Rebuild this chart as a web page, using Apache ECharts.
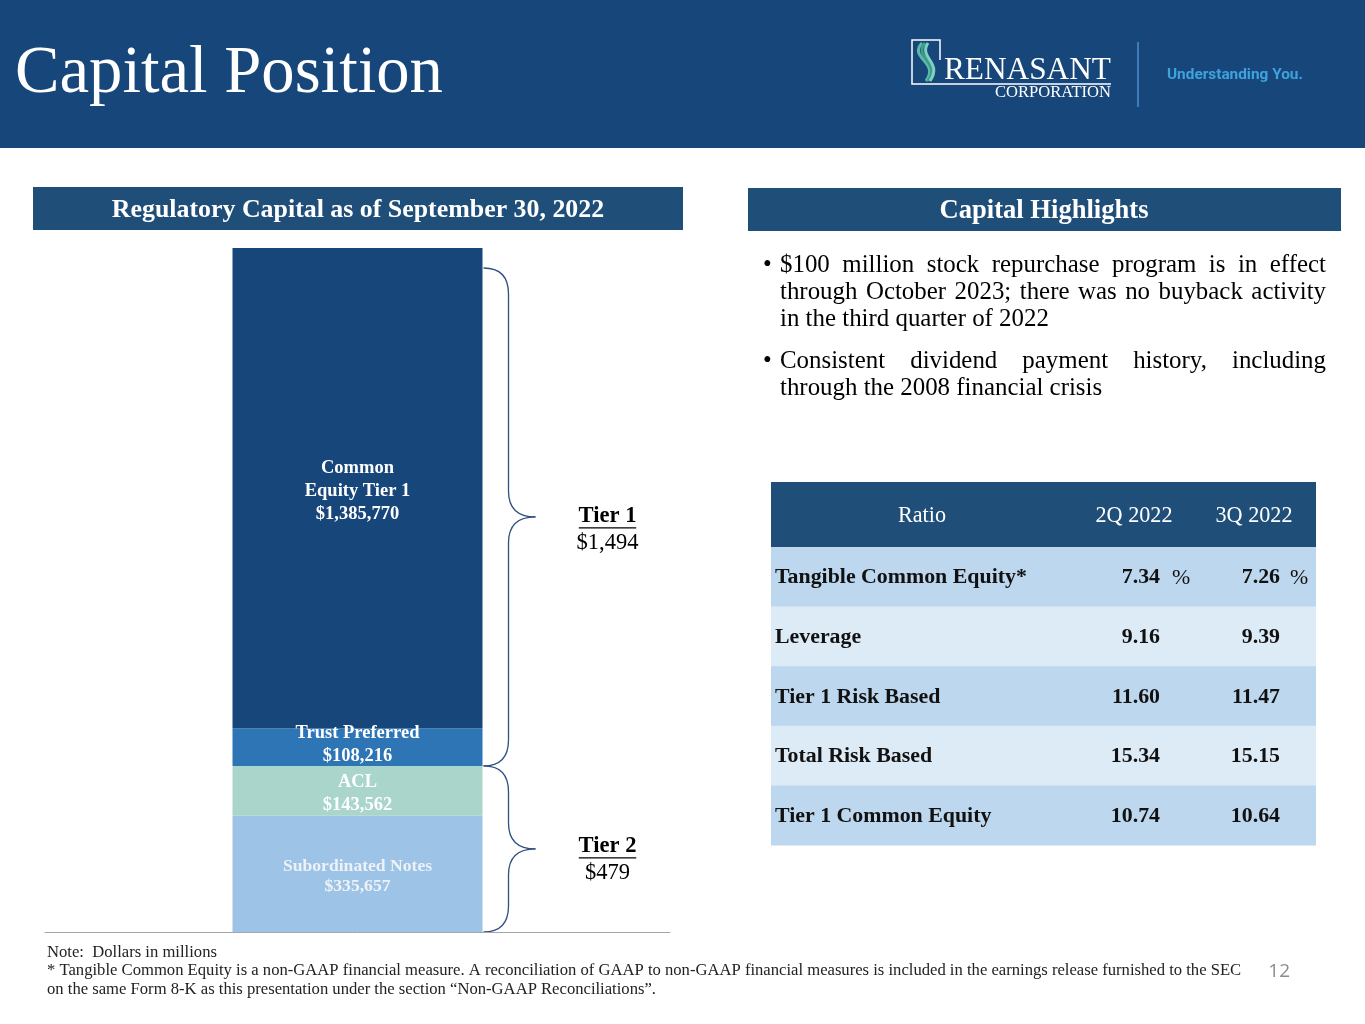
<!DOCTYPE html>
<html><head><meta charset="utf-8">
<script src="https://cdn.jsdelivr.net/npm/echarts@6/dist/echarts.min.js"></script>
<style>html,body{margin:0;padding:0;background:#fff}#c{width:1365px;height:1024px}#m{position:absolute;left:-5000px;top:0;white-space:nowrap;visibility:hidden}</style>
</head><body><div id="c"></div><span id="m"></span>
<script>
// ---------- data ----------
const categories = ['Regulatory Capital'];
const segmentNames = ['Subordinated Notes', 'ACL', 'Trust Preferred', 'Common Equity Tier 1'];
const segmentValues = [335657, 143562, 108216, 1385770];
const segmentLabels = ['Subordinated Notes\n$335,657', 'ACL\n$143,562', 'Trust Preferred\n$108,216', 'Common\nEquity Tier 1\n$1,385,770'];
const tierNames = ['Tier 1', 'Tier 2'];
const tierTotals = ['$1,494', '$479'];
const ratioHeader = 'Ratio';
const periodLabels = ['2Q 2022', '3Q 2022'];
const ratioNames = ['Tangible Common Equity*', 'Leverage', 'Tier 1 Risk Based', 'Total Risk Based', 'Tier 1 Common Equity'];
const q2Values = ['7.34', '9.16', '11.60', '15.34', '10.74'];
const q3Values = ['7.26', '9.39', '11.47', '15.15', '10.64'];
const percentRow = [true, false, false, false, false];
const bulletLines = [
  [['$100 million stock repurchase program is in effect', true], ['through October 2023; there was no buyback activity', true], ['in the third quarter of 2022', false]],
  [['Consistent dividend payment history, including', true], ['through the 2008 financial crisis', false]]
];
const titleText = 'Capital Position';
const leftHeader = 'Regulatory Capital as of September 30, 2022';
const rightHeader = 'Capital Highlights';
const footNotes = ['Note:  Dollars in millions',
  '* Tangible Common Equity is a non-GAAP financial measure. A reconciliation of GAAP to non-GAAP financial measures is included in the earnings release furnished to the SEC',
  'on the same Form 8-K as this presentation under the section \u201cNon-GAAP Reconciliations\u201d.'];
const pageNumber = '12';

// ---------- style ----------
const SERIF = '"Liberation Serif", "Times New Roman", serif';
const SANS = 'Roboto, "Liberation Sans", sans-serif';
const NAVY = '#17477a';
const HEAD = '#1f4e79';
const segColors = ['#9dc3e6', '#a9d5cb', '#2e75b6', '#17467a'];
const labelColors = ['#eef2f7', '#ffffff', '#ffffff', '#ffffff'];

const mEl = document.getElementById('m');
function measure(text, size, weight, fam) {
  mEl.style.fontFamily = fam || SERIF;
  mEl.style.fontSize = size + 'px';
  mEl.style.fontWeight = weight || 'normal';
  mEl.textContent = text;
  let w = mEl.getBoundingClientRect().width;
  if (!(w > 0)) w = text.length * size * 0.45;
  return w;
}
function fit(text, target, weight, fam) { return Math.round(10000 * target / measure(text, 100, weight, fam)) / 100; }

const total = segmentValues.reduce((a, b) => a + b, 0);
const barLabelSize = fit('Subordinated Notes', 157, 'bold');
const labelOffsets = [[0, 3], [0, 3], [0, -2], [0, 3]];
const chart = echarts.init(document.getElementById('c'));
chart.setOption({
  animation: false,
  grid: { left: 45, right: 695, top: 248, bottom: 92 },
  xAxis: { type: 'category', data: categories, axisLine: { lineStyle: { color: '#a6a6a6', width: 1 } }, axisTick: { show: false }, axisLabel: { show: false } },
  yAxis: { type: 'value', min: 0, max: total, show: false, splitLine: { show: false } },
  series: segmentNames.map((n, i) => ({
    name: n, type: 'bar', stack: 'cap', barWidth: 250,
    data: [segmentValues[i]],
    itemStyle: { color: segColors[i] },
    label: {
      show: true, position: 'inside', formatter: () => segmentLabels[i],
      color: labelColors[i], fontFamily: SERIF, fontWeight: 'bold',
      fontSize: i === 0 ? barLabelSize * 0.95 : barLabelSize,
      lineHeight: i === 0 ? 20 : 23,
      offset: labelOffsets[i]
    }
  }))
});

// ---------- annotations ----------
const g = [];
function txt(x, y, text, size, opt) {
  opt = opt || {};
  g.push({ type: 'text', x: x, y: y, silent: true, style: Object.assign({ text: text, fontSize: size, fontFamily: opt.fam || SERIF, fontWeight: opt.weight || 'normal', fill: opt.fill || '#000', align: opt.align || 'left', verticalAlign: 'middle' }, opt.extra || {}) });
}
function line(x1, y1, x2, y2, stroke, w) {
  g.push({ type: 'line', silent: true, shape: { x1, y1, x2, y2 }, style: { stroke, lineWidth: w } });
}
function curve(x1, y1, cx, cy, x2, y2, stroke, w, cx2, cy2) {
  const shape = { x1, y1, x2, y2, cpx1: cx, cpy1: cy };
  if (cx2 !== undefined) { shape.cpx2 = cx2; shape.cpy2 = cy2; }
  g.push({ type: 'bezierCurve', silent: true, shape, style: { stroke, lineWidth: w, fill: null } });
}
// header band
g.push({ type: 'rect', shape: { x: 0, y: 0, width: 1365, height: 148 }, style: { fill: NAVY } });
txt(15, 74, titleText, fit(titleText, 428), { fill: '#fff' });
// logo
g.push({ type: 'polyline', shape: { points: [[940, 60], [940, 40], [912, 40], [912, 84], [1111, 84]] }, style: { stroke: '#fff', lineWidth: 1.5, fill: null } });
[[0, '#5fb8a5'], [5, '#3d9c8c'], [10, '#7fd0c0']].forEach(([d, c]) => {
  curve(922 + d * 0.6, 43, 908 + d, 58, 926 + d * 0.4, 81, c, 3, 940 + d * 0.3, 62);
});
txt(944, 71, 'RENASANT', fit('RENASANT', 167), { fill: '#fff' });
txt(1111, 93, 'CORPORATION', fit('CORPORATION', 116), { fill: '#fff', align: 'right' });
line(1138, 42, 1138, 107, '#4a8fcc', 1.5);
txt(1167, 75, 'Understanding You.', fit('Understanding You.', 136, 'bold', SANS), { fam: SANS, weight: 'bold', fill: '#3ea2dd' });

// section headers
g.push({ type: 'rect', shape: { x: 33, y: 187, width: 650, height: 43 }, style: { fill: HEAD } });
txt(358, 210, leftHeader, fit(leftHeader, 492, 'bold'), { fill: '#fff', weight: 'bold', align: 'center' });
g.push({ type: 'rect', shape: { x: 748, y: 188, width: 593, height: 43 }, style: { fill: HEAD } });
txt(1044, 211, rightHeader, fit(rightHeader, 209, 'bold'), { fill: '#fff', weight: 'bold', align: 'center' });

// bullets (justified)
const bSize = fit('in the third quarter of 2022', 269);
const bX0 = 780, bX1 = 1326;
const bY = [[265, 292, 319], [361, 388]];
bulletLines.forEach((para, pi) => {
  txt(763, bY[pi][0], '\u2022', bSize, { fill: '#000' });
  para.forEach(([ln, just], li) => {
    const y = bY[pi][li];
    if (!just) { txt(bX0, y, ln, bSize); return; }
    const words = ln.split(' ');
    const ws = words.map(w => measure(w, bSize));
    const gap = (bX1 - bX0 - ws.reduce((a, b) => a + b, 0)) / (words.length - 1);
    let x = bX0;
    words.forEach((w, k) => { txt(x, y, w, bSize); x += ws[k] + gap; });
  });
});

// table
const tX = 771, tW = 545, tY = 482, hH = 65, rH = 59.6;
g.push({ type: 'rect', shape: { x: tX, y: tY, width: tW, height: hH }, style: { fill: HEAD } });
const thSize = fit('2Q 2022', 77);
txt(922, tY + 34, ratioHeader, thSize, { fill: '#fff', align: 'center' });
txt(1134, tY + 34, periodLabels[0], thSize, { fill: '#fff', align: 'center' });
txt(1254, tY + 34, periodLabels[1], thSize, { fill: '#fff', align: 'center' });
const tdSize = fit('Tangible Common Equity*', 252, 'bold');
ratioNames.forEach((n, i) => {
  const y0 = tY + hH + i * rH;
  g.push({ type: 'rect', shape: { x: tX, y: y0, width: tW, height: rH + 0.5 }, style: { fill: i % 2 === 0 ? '#bdd7ee' : '#ddebf7' } });
  const yc = y0 + rH / 2 + 1;
  txt(775, yc, n, tdSize, { weight: 'bold', fill: '#111' });
  txt(1160, yc, q2Values[i], tdSize, { weight: 'bold', fill: '#111', align: 'right' });
  txt(1280, yc, q3Values[i], tdSize, { weight: 'bold', fill: '#111', align: 'right' });
  if (percentRow[i]) {
    txt(1172, yc, '%', tdSize, { fill: '#111' });
    txt(1290, yc, '%', tdSize, { fill: '#111' });
  }
});

// braces from the bar geometry
const yTop = chart.convertToPixel({ yAxisIndex: 0 }, total);
const yMid = chart.convertToPixel({ yAxisIndex: 0 }, segmentValues[0] + segmentValues[1]);
const yBot = chart.convertToPixel({ yAxisIndex: 0 }, 0);
const xC = chart.convertToPixel({ xAxisIndex: 0 }, 0);
const x0 = xC + 126, xm = x0 + 25, xt = x0 + 52, r = 26;
const BR = '#2f4f7f';
function brace(y0, y1) {
  const m = (y0 + y1) / 2;
  curve(x0, y0, xm, y0, xm, y0 + r, BR, 1.3);
  line(xm, y0 + r, xm, m - r, BR, 1.3);
  curve(xm, m - r, xm, m, xt, m, BR, 1.3);
  curve(xt, m, xm, m, xm, m + r, BR, 1.3);
  line(xm, m + r, xm, y1 - r, BR, 1.3);
  curve(xm, y1 - r, xm, y1, x0, y1, BR, 1.3);
  return m;
}
const spans = [[yTop + 20, yMid], [yMid, yBot]];
const tierSize = fit('$1,494', 62);
const tierShift = [2, 0];
spans.forEach(([a, b], i) => {
  const m = brace(a, b) + tierShift[i];
  const lx = xt + 72;
  txt(lx, m - 3, tierNames[i], tierSize, { weight: 'bold', align: 'center' });
  const tw = measure(tierNames[i], tierSize, 'bold');
  line(lx - tw / 2, m + 9, lx + tw / 2, m + 9, '#000', 1.3);
  txt(lx, m + 24, tierTotals[i], tierSize, { align: 'center' });
});

// footnotes
const fSize = fit(footNotes[1], 1191);
txt(47, 953, footNotes[0], fSize, { fill: '#222' });
txt(47, 971, footNotes[1], fSize, { fill: '#222' });
txt(47, 990, footNotes[2], fSize, { fill: '#222' });
txt(1290, 972, pageNumber, 19, { fam: '"Open Sans", sans-serif', fill: '#8c8c8c', align: 'right' });

chart.setOption({ graphic: { elements: g } });
</script></body></html>
